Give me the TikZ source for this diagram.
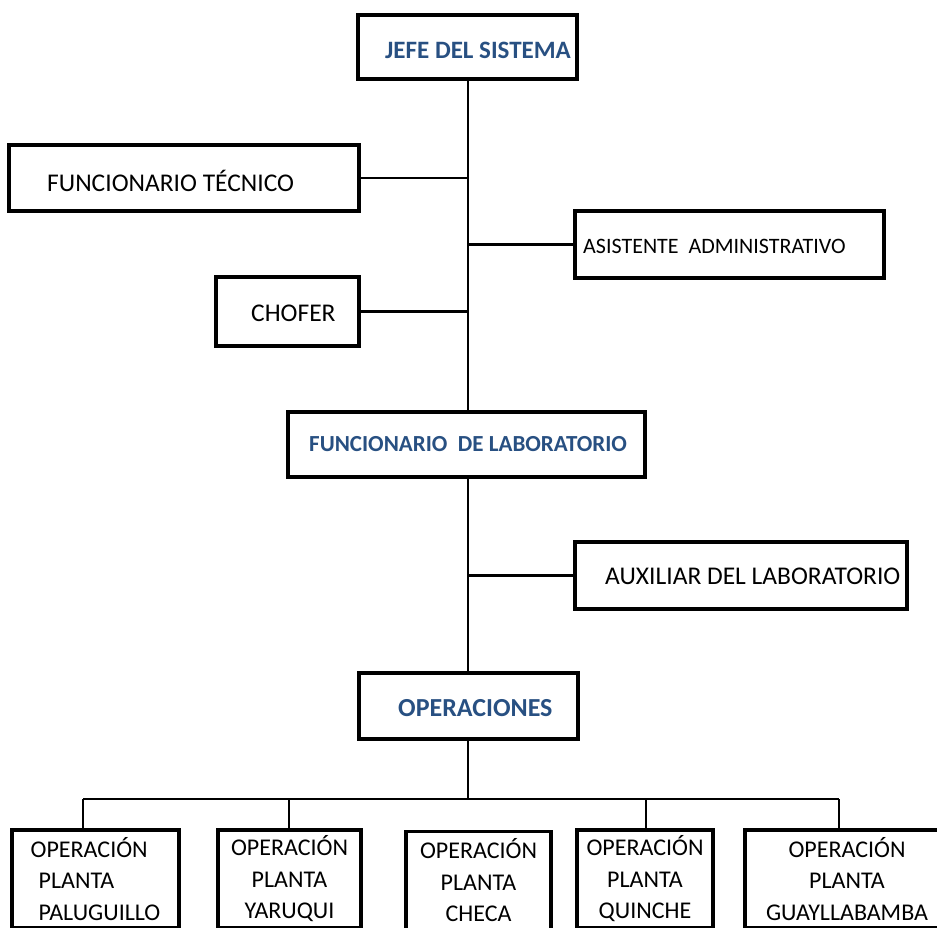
\documentclass[tikz,border=0pt]{standalone}
\usepackage{fontspec}
\setmainfont{Carlito}
\definecolor{azul}{RGB}{40,80,130}
\begin{document}
\begin{tikzpicture}[x=1pt, y=-1pt,
    caja/.style = {draw, line width=3.5pt, inner sep=0pt},
    planta/.style = {caja, minimum height=98, align=center, font=\fontsize{24}{31.5}\selectfont},
    texto/.style = {inner sep=0pt, anchor=west, font=\fontsize{25.5}{30}\selectfont},
    titulo/.style = {texto, text=azul, font=\fontsize{25}{30}\selectfont\bfseries},
    linea/.style = {line width=2.5pt}]
    \useasboundingbox (0,0) rectangle (937,927);
    \clip (0,0) rectangle (937,927);

    % cajas
    \node[caja, minimum width=219, minimum height=64] (jefe) at (467.5,47) {};
    \node[caja, minimum width=350, minimum height=66] (tecnico) at (184,178) {};
    \node[caja, minimum width=309, minimum height=67] (asistente) at (729.5,244.5) {};
    \node[caja, minimum width=143, minimum height=69] (chofer) at (287.5,311.5) {};
    \node[caja, minimum width=357, minimum height=65] (lab) at (466.5,444.5) {};
    \node[caja, minimum width=332, minimum height=67] (auxiliar) at (741,575.5) {};
    \node[caja, minimum width=219, minimum height=66] (operaciones) at (468.5,706) {};

    % textos
    \node[titulo] (jefe-t) at (385,50) {JEFE DEL SISTEMA};
    \node[texto] (tecnico-t) at (47,181) {FUNCIONARIO TÉCNICO};
    \node[texto, font=\fontsize{22}{26}\selectfont] (asistente-t) at (583,246) {ASISTENTE\ \ ADMINISTRATIVO};
    \node[texto] (chofer-t) at (251,313) {CHOFER};
    \node[titulo, font=\fontsize{23}{28}\selectfont\bfseries] (lab-t) at (309,444) {FUNCIONARIO\ \ DE LABORATORIO};
    \node[texto] (auxiliar-t) at (605,576) {AUXILIAR DEL LABORATORIO};
    \node[titulo, font=\fontsize{26}{30}\selectfont\bfseries] (operaciones-t) at (398,708) {OPERACIONES};

    % plantas
    \node[planta, minimum width=167, align=left] (op1) at (95.5,879) {OPERACIÓN\\\hspace*{8pt}PLANTA\\\hspace*{8pt}PALUGUILLO};
    \node[planta, minimum width=143] (op2) at (289.5,879) {OPERACIÓN\\PLANTA\\YARUQUI};
    \node[planta, minimum width=145] (op3) at (478.5,880.5) {OPERACIÓN\\PLANTA\\CHECA};
    \node[planta, minimum width=136] (op4) at (645,879) {OPERACIÓN\\PLANTA\\QUINCHE};
    \node[planta, minimum width=204] (op5) at (847,879) {OPERACIÓN\\PLANTA\\GUAYLLABAMBA};

    % conectores
    \coordinate (tronco) at (468,0);
    \draw[linea] (jefe.south -| tronco) -- (lab.north -| tronco);
    \draw[linea] (tecnico.east) -- (tecnico.east -| tronco);
    \draw[linea] (asistente.west) -- (asistente.west -| tronco);
    \draw[linea] (chofer.east) -- (chofer.east -| tronco);
    \draw[linea] (lab.south -| tronco) -- (operaciones.north -| tronco);
    \draw[linea] (auxiliar.west) -- (auxiliar.west -| tronco);

    \coordinate (b1) at (83,799);
    \coordinate (b2) at (289,799);
    \coordinate (b4) at (646,799);
    \coordinate (b5) at (839,799);
    \draw[linea] (operaciones.south -| tronco) -- (b1 -| tronco);
    \draw[linea] (b1) -- (b5);
    \foreach \i in {1,2,4,5}
        \draw[linea] (b\i) -- (b\i |- op\i.north);
\end{tikzpicture}
\end{document}
